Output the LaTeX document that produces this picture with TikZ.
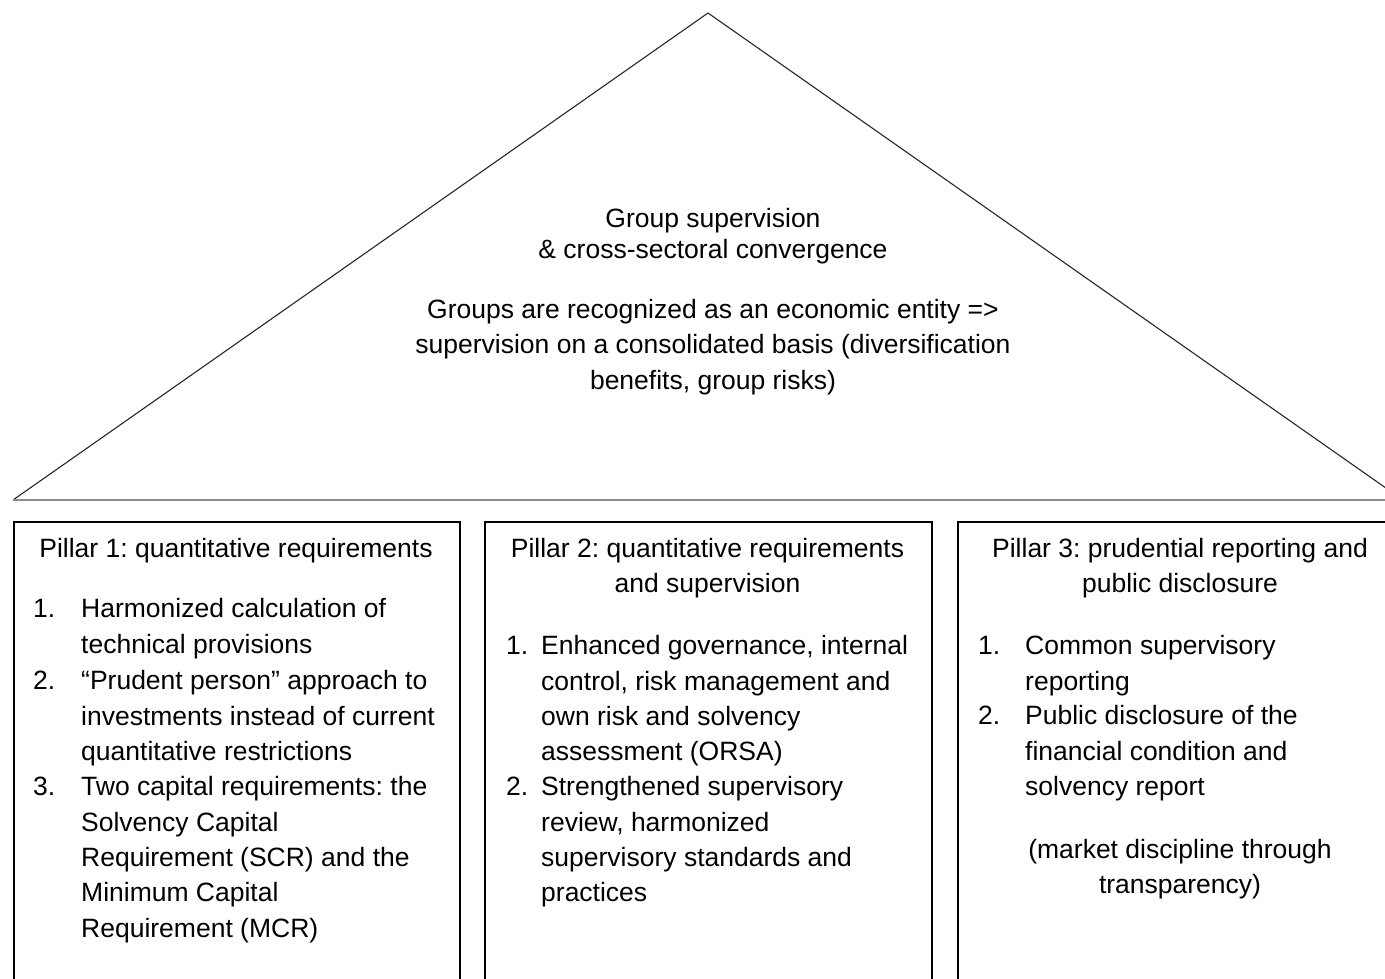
\documentclass[tikz,border=0pt]{standalone}
\usepackage{fontspec}
\setmainfont{Liberation Sans}
\usetikzlibrary{positioning}
\frenchspacing

\tikzset{
  every node/.style={inner sep=0pt, font=\fontsize{26.5}{35.3}\selectfont},
  pillar/.style={draw, line width=2pt, minimum width=#1, minimum height=520pt, anchor=north west},
  heading/.style={align=center, anchor=north},
  item num/.style={anchor=north west},
  item text/.style={align=left, anchor=north west},
}

\begin{document}
\begin{tikzpicture}[x=1pt, y=-1pt]
\useasboundingbox (0,0) rectangle (1385,978);
\clip (0,0) rectangle (1385,978);

% roof
\coordinate (roof-left) at (13,500);
\coordinate (roof-top) at (708,13);
\coordinate (roof-right) at (1403,500);
\draw[line width=1.1pt, black!85] (roof-left) -- (roof-top) -- (roof-right);
\draw[line width=2pt, black!45] (roof-left) -- (roof-right);

% text is placed by the top of its first line
\node [heading, font=\fontsize{26.5}{31}\selectfont] (group) at (713,208)
  {Group supervision\\ \& cross-sectoral convergence};
\node [heading] (entity) at (713,299)
  {Groups are recognized as an economic entity =>\\
   supervision on a consolidated basis (diversification\\
   benefits, group risks)};

% the three pillars
\foreach \x/\w [count=\i] in {13/446, 484/447, 957/446}
  \node [pillar=\w] (pillar-\i) at (\x,521) {};

\node [heading] (title-1) at (236,538) {Pillar 1: quantitative requirements};
\node [heading] (title-2) at (707.5,538) {Pillar 2: quantitative requirements\\ and supervision};
\node [heading] (title-3) at (1180,538) {Pillar 3: prudential reporting and\\ public disclosure};

% items: a strut on the first line keeps number and text level
% pillar 1 items
\foreach \n/\y/\t in {
    1/593/{Harmonized calculation of\\ technical provisions},
    2/665/{“Prudent person” approach to\\ investments instead of current\\ quantitative restrictions},
    3/771/{Two capital requirements: the\\ Solvency Capital\\ Requirement (SCR) and the\\ Minimum Capital\\ Requirement (MCR)}}
{
  \node [item num] (num-1-\n) at (33,\y) {\strut\n.};
  \node [item text] (item-1-\n) at (81,\y) {\strut\t};
}

% pillar 2 items
\foreach \n/\y/\t in {
    1/630/{Enhanced governance, internal\\ control, risk management and\\ own risk and solvency\\ assessment (ORSA)},
    2/771/{Strengthened supervisory\\ review, harmonized\\ supervisory standards and\\ practices}}
{
  \node [item num] (num-2-\n) at (506,\y) {\strut\n.};
  \node [item text] (item-2-\n) at (541,\y) {\strut\t};
}

% pillar 3 items
\foreach \n/\y/\t in {
    1/630/{Common supervisory\\ reporting},
    2/700/{Public disclosure of the\\ financial condition and\\ solvency report}}
{
  \node [item num] (num-3-\n) at (978,\y) {\strut\n.};
  \node [item text] (item-3-\n) at (1025,\y) {\strut\t};
}

\node [heading] (discipline) at (1180,839) {(market discipline through\\ transparency)};

\end{tikzpicture}
\end{document}
